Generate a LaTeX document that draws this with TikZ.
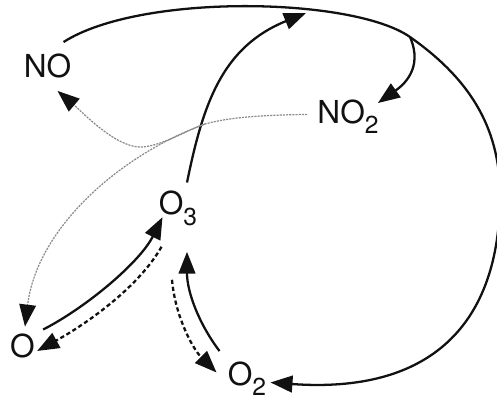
\documentclass[tikz,border=0pt]{standalone}
\usepackage{fontspec}
\setmainfont{TeX Gyre Heros}
\usetikzlibrary{arrows.meta,positioning}
\definecolor{ink}{HTML}{111111}
\definecolor{lightink}{HTML}{8C8C8C}
\newcommand{\chemsub}[1]{\raisebox{-6pt}{\fontsize{14}{14}\selectfont #1}}

\begin{document}
\begin{tikzpicture}[
    x=0.02cm, y=-0.02cm,
    species/.style={inner sep=0pt, anchor=base, font=\fontsize{18}{20}\selectfont, text=ink},
    react/.style={-{Triangle[length=12.5pt, width=9.5pt]}, line width=1.3pt, draw=ink},
    back/.style={react, dash pattern=on 2.4pt off 1.6pt},
    photo/.style={-{Triangle[length=12.5pt, width=9.5pt, color=ink]}, line width=0.7pt, draw=lightink, dash pattern=on 1.2pt off 0.6pt}
]
\useasboundingbox (0,0) rectangle (497,400);

\node[species] (no) at (47.5,77) {NO};
\node[species] (no2) at (348,123) {NO\chemsub{2}};
\node[species] (o3) at (178,214.5) {O\chemsub{3}};
\node[species] (o) at (22.5,357.5) {O};
\node[species] (o2) at (247,385) {O\chemsub{2}};

\coordinate (join) at (306,13);
\coordinate (fork) at (410,37);
\coordinate (rim) at (500,195);
\coordinate (split) at (205,124);
\coordinate (dip) at (140,147);

\draw[react] ([shift={(-8,-11)}]no.north east) .. controls (140,-7) and (353,-3) .. (fork)
    .. controls (467,77) and (500,125) .. (rim)
    .. controls (500,325) and (430,394) .. ([shift={(4,4)}]o2.east);
\draw[react] ([shift={(9,-8)}]o3.north) .. controls (203,104) and (222,47) .. (join);
\draw[react] (fork) .. controls (424,69) and (402,86) .. ([shift={(-1,4)}]no2.north east);

\draw[photo] ([shift={(-10,-2)}]no2.west) .. controls (265,115) and (230,117) .. (split)
    .. controls (120,155) and (37,228) .. ([shift={(2.5,-7)}]o.north);
\draw[photo] (split) .. controls (185,131) and (160,147) .. (dip)
    .. controls (115,147) and (80,110) .. ([shift={(10,13)}]no.south);

\draw[react] ([shift={(8,-4)}]o.north east) .. controls (87,307) and (140,262) .. ([shift={(4,9)}]o3.west);
\draw[back] ([shift={(3,21)}]o3.south west) .. controls (137,290) and (81,327) .. ([shift={(2,5)}]o.east);
\draw[react] ([shift={(-8,-10)}]o2.north west) .. controls (199,324) and (187,292) .. ([shift={(9,26)}]o3.south);
\draw[back] ([shift={(-6,54)}]o3.south) .. controls (175,315) and (192,348) .. ([shift={(-11,-6)}]o2.west);
\end{tikzpicture}
\end{document}
